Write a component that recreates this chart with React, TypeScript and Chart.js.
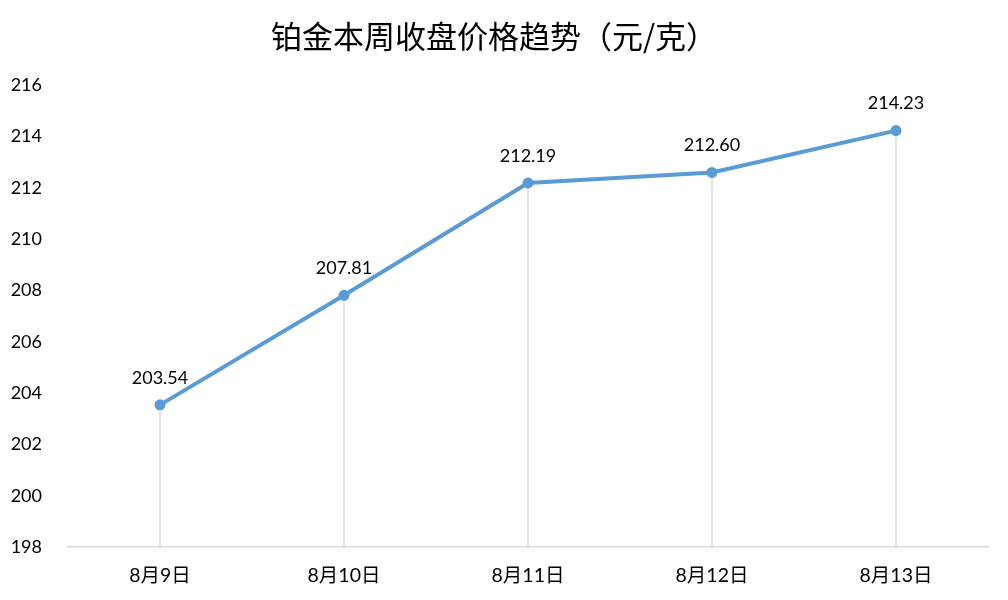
import React, { useEffect, useRef } from "react";
import { Chart, registerables } from "chart.js";

Chart.register(...registerables);

const titleText = "铂金本周收盘价格趋势（元/克）";
const categories = ["8月9日", "8月10日", "8月11日", "8月12日", "8月13日"];
const prices = [203.54, 207.81, 212.19, 212.6, 214.23];
const yMin = 198;
const yMax = 216;
const yStep = 2;

const lineColor = "#5b9bd5";
const gridColor = "#d9d9d9";
const fontFamily = "Lato, 'Noto Sans CJK SC', sans-serif";

const dropLinesPlugin = {
  id: "dropLines",
  beforeDatasetsDraw(chart: any) {
    const ctx = chart.ctx;
    const meta = chart.getDatasetMeta(0);
    const bottom = chart.chartArea.bottom;
    ctx.save();
    ctx.strokeStyle = gridColor;
    ctx.lineWidth = 1.5;
    meta.data.forEach((pt: any) => {
      ctx.beginPath();
      ctx.moveTo(pt.x, pt.y);
      ctx.lineTo(pt.x, bottom);
      ctx.stroke();
    });
    ctx.restore();
  },
};

const valueLabelsPlugin = {
  id: "valueLabels",
  afterDatasetsDraw(chart: any) {
    const ctx = chart.ctx;
    const meta = chart.getDatasetMeta(0);
    const data = chart.data.datasets[0].data;
    ctx.save();
    ctx.fillStyle = "#000000";
    ctx.font = `18px ${fontFamily}`;
    ctx.textAlign = "center";
    ctx.textBaseline = "middle";
    meta.data.forEach((pt: any, i: number) => {
      ctx.fillText(Number(data[i]).toFixed(2), pt.x, pt.y - 27);
    });
    ctx.restore();
  },
};

export default function App() {
  const canvasRef = useRef<HTMLCanvasElement | null>(null);

  useEffect(() => {
    document.body.style.margin = "0";
    const canvas = canvasRef.current;
    if (!canvas) return;
    const chart = new Chart(canvas, {
      type: "line",
      data: {
        labels: categories,
        datasets: [
          {
            data: prices,
            borderColor: lineColor,
            backgroundColor: lineColor,
            borderWidth: 4,
            pointRadius: 5.5,
            pointBackgroundColor: lineColor,
            pointBorderColor: lineColor,
            pointBorderWidth: 0,
            tension: 0,
          },
        ],
      },
      options: {
        animation: false,
        responsive: false,
        maintainAspectRatio: false,
        layout: { padding: { left: 0, right: 20, top: 0, bottom: 0 } },
        plugins: {
          legend: { display: false },
          tooltip: { enabled: false },
          title: {
            display: true,
            text: titleText,
            color: "#000000",
            font: { size: 31, family: "'Noto Sans CJK SC', sans-serif", weight: "normal" },
            padding: { top: 18, bottom: 30 },
          },
        },
        scales: {
          x: {
            offset: true,
            grid: { display: false, drawTicks: false },
            border: { display: true, color: gridColor, width: 1.5 },
            ticks: {
              color: "#000000",
              font: { size: 19.5, family: fontFamily },
              padding: 17,
              maxRotation: 0,
            },
            afterFit: (scale: any) => {
              scale.height = 53;
            },
          },
          y: {
            min: yMin,
            max: yMax,
            grid: { display: false, drawTicks: false },
            border: { display: false },
            ticks: {
              stepSize: yStep,
              color: "#000000",
              font: { size: 18, family: fontFamily },
              padding: 26,
            },
            afterFit: (scale: any) => {
              scale.width = 68;
            },
          },
        },
      },
      plugins: [dropLinesPlugin, valueLabelsPlugin],
    });
    return () => chart.destroy();
  }, []);

  return (
    <div style={{ width: 1008, height: 600 }}>
      <canvas ref={canvasRef} width={1008} height={600} />
    </div>
  );
}
